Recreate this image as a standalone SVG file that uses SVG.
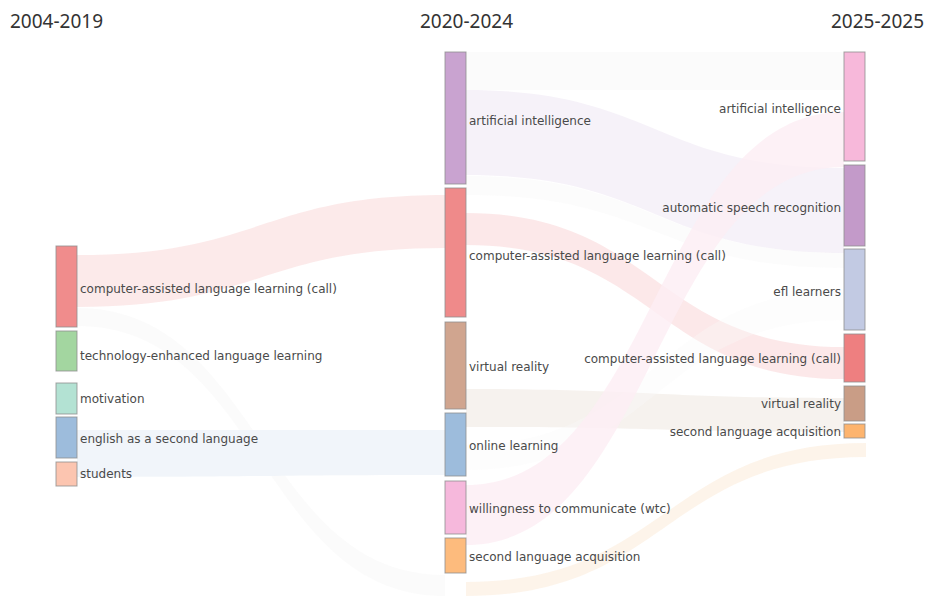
<svg xmlns="http://www.w3.org/2000/svg" width="925" height="596" viewBox="0 0 925 596">
<style>
.t{font-family:"Noto Sans","Open Sans",sans-serif;font-size:19px;fill:#333}
.l{font-family:"DejaVu Sans","Liberation Sans",sans-serif;font-size:12px;fill:#4a4a4a}
.r{text-anchor:end}
.n{stroke:#8f8f8f;stroke-width:1;stroke-opacity:0.8}
.k{stroke:none}
</style>
<rect width="925" height="596" fill="#ffffff"/>
<text class="t" x="10" y="28">2004-2019</text>
<text class="t" x="420" y="28">2020-2024</text>
<text class="t" x="831" y="28">2025-2025</text>
<g id="links">
<path class="k" fill="#fce6e6" fill-opacity="0.85" d="M77 255 C261 255 261 195 445 195 L445 248 C261 248 261 307 77 307 Z"/>
<path class="k" fill="#f6f6f6" fill-opacity="0.45" d="M77 308 C261 308 261 575 445 575 L445 596 C261 596 261 326 77 326 Z"/>
<path class="k" fill="#eef3f9" fill-opacity="0.85" d="M77 430 C261 430 261 430 445 430 L445 475 C261 475 261 477 77 477 Z"/>
<path class="k" fill="#f8f8f8" fill-opacity="0.5" d="M466 52 C655 52 655 52 844 52 L844 90 C655 90 655 90 466 90 Z"/>
<path class="k" fill="#f5f0f8" fill-opacity="0.85" d="M466 90 C655 90 655 168 844 168 L844 253 C655 253 655 175 466 175 Z"/>
<path class="k" fill="#f7f7f7" fill-opacity="0.4" d="M466 176 C655 176 655 253 844 253 L844 268 C655 268 655 195 466 195 Z"/>
<path class="k" fill="#fbe4e5" fill-opacity="0.85" d="M466 213 C655 213 655 347 844 347 L844 379 C655 379 655 245 466 245 Z"/>
<path class="k" fill="#f4f0eb" fill-opacity="0.85" d="M466 389 C655 389 655 398 844 398 L844 432 C655 432 655 427 466 427 Z"/>
<path class="k" fill="#f8f8f8" fill-opacity="0.35" d="M466 445 C655 445 655 290 844 290 L844 320 C655 320 655 470 466 470 Z"/>
<path class="k" fill="#fcedf4" fill-opacity="0.8" d="M466 485 C655 485 655 112 844 112 L844 167 C655 167 655 545 466 545 Z"/>
<path class="k" fill="#fdf2e6" fill-opacity="0.85" d="M466 582 C666 582 666 443 866 443 L866 457 C666 457 666 596 466 596 Z"/>
</g>
<g id="n-l-call"><rect class="n" x="56" y="246" width="21" height="81" fill="#f08c8c"/><text class="l" x="80" y="293">computer-assisted language learning (call)</text></g>
<g id="n-l-tel"><rect class="n" x="56" y="331" width="21" height="40" fill="#a3d6a0"/><text class="l" x="80" y="360">technology-enhanced language learning</text></g>
<g id="n-l-motivation"><rect class="n" x="56" y="383" width="21" height="31" fill="#b3e2d3"/><text class="l" x="80" y="403">motivation</text></g>
<g id="n-l-esl"><rect class="n" x="56" y="417" width="21" height="41" fill="#9dbcdc"/><text class="l" x="80" y="443">english as a second language</text></g>
<g id="n-l-students"><rect class="n" x="56" y="462" width="21" height="24" fill="#fcc5b0"/><text class="l" x="80" y="478">students</text></g>
<g id="n-m-ai"><rect class="n" x="445" y="52" width="21" height="132" fill="#c9a3d0"/><text class="l" x="469" y="125">artificial intelligence</text></g>
<g id="n-m-call"><rect class="n" x="445" y="188" width="21" height="129" fill="#ef8a8a"/><text class="l" x="469" y="260">computer-assisted language learning (call)</text></g>
<g id="n-m-vr"><rect class="n" x="445" y="322" width="21" height="87" fill="#d0a58f"/><text class="l" x="469" y="371">virtual reality</text></g>
<g id="n-m-online"><rect class="n" x="445" y="413" width="21" height="63" fill="#9dbcdc"/><text class="l" x="469" y="450">online learning</text></g>
<g id="n-m-wtc"><rect class="n" x="445" y="481" width="21" height="53" fill="#f6b8dc"/><text class="l" x="469" y="513">willingness to communicate (wtc)</text></g>
<g id="n-m-sla"><rect class="n" x="445" y="538" width="21" height="35" fill="#fdbb7d"/><text class="l" x="469" y="561">second language acquisition</text></g>
<g id="n-r-ai"><rect class="n" x="844" y="52" width="21" height="109" fill="#f7b8da"/><text class="l r" x="841" y="113">artificial intelligence</text></g>
<g id="n-r-asr"><rect class="n" x="844" y="165" width="21" height="81" fill="#c39ac9"/><text class="l r" x="841" y="212">automatic speech recognition</text></g>
<g id="n-r-efl"><rect class="n" x="844" y="249" width="21" height="81" fill="#c2cae3"/><text class="l r" x="841" y="296">efl learners</text></g>
<g id="n-r-call"><rect class="n" x="844" y="334" width="21" height="48" fill="#ee7f80"/><text class="l r" x="841" y="363">computer-assisted language learning (call)</text></g>
<g id="n-r-vr"><rect class="n" x="844" y="386" width="21" height="35" fill="#c99d86"/><text class="l r" x="841" y="408">virtual reality</text></g>
<g id="n-r-sla"><rect class="n" x="844" y="424" width="21" height="14" fill="#fdb46e"/><text class="l r" x="841" y="436">second language acquisition</text></g>
</svg>
